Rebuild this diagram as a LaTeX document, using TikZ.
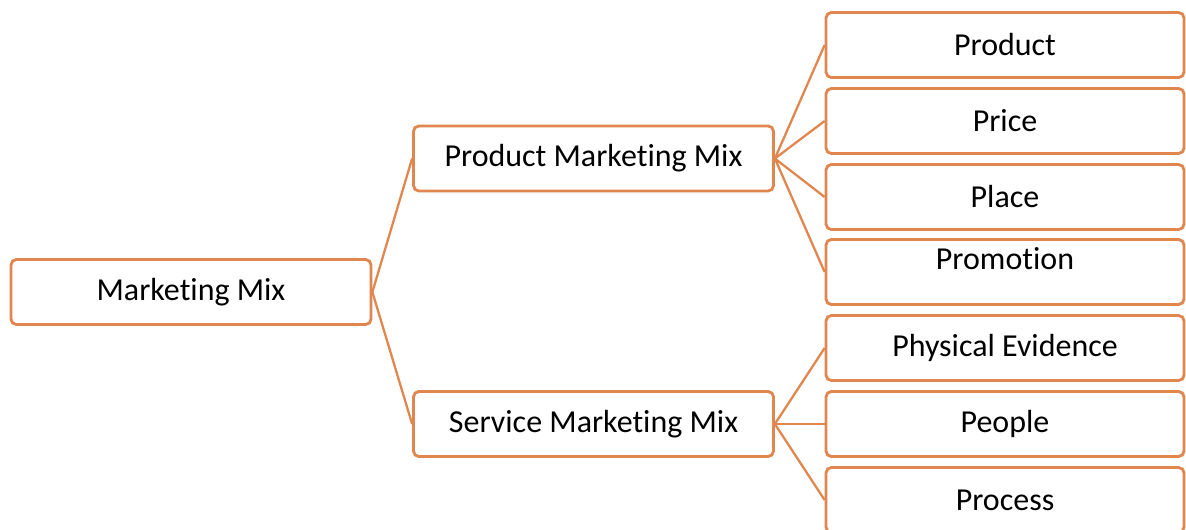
\documentclass[tikz,border=0pt]{standalone}
\usepackage{fontspec}
\setmainfont{Carlito}[Ligatures=NoCommon]
\definecolor{mixorange}{RGB}{224,134,78}
\tikzset{box/.style = {draw=mixorange, line width=1.6pt, rounded corners=3pt, fill=white, minimum width=7.2cm, minimum height=1.3cm, inner sep=2pt, font=\fontsize{18.2}{21}\selectfont}}
\tikzset{leaf/.style = {box, minimum width=7.16cm}}
\tikzset{link/.style = {draw=mixorange, line width=1.3pt}}

\begin{document}
\begin{tikzpicture}[x=0.02cm, y=-0.02cm]
        \useasboundingbox (0,0) rectangle (1186,529);
        % root and the two mixes
        \node[box] (mix) at (191,292) {Marketing Mix};
        \node[box] (pmm) at (593.5,158.5) {Product Marketing Mix};
        \node[box] (smm) at (593.5,424) {Service Marketing Mix};
        % the 4 Ps
        \node[leaf] (product) at (1005,45) {Product};
        \node[leaf] (price) at (1005,121) {Price};
        \node[leaf] (place) at (1005,197) {Place};
        \node[leaf, text depth=0.55cm] (promotion) at (1005,272) {Promotion};
        % the extra service Ps
        \node[leaf] (evidence) at (1005,348) {Physical Evidence};
        \node[leaf] (people) at (1005,424) {People};
        \node[leaf] (process) at (1005,500) {Process};
        \draw[link] (mix.east) -- (pmm.west) (mix.east) -- (smm.west);
        \foreach \p in {product,price,place,promotion}
            \draw[link] (pmm.east) -- (\p.west);
        \foreach \s in {evidence,people,process}
            \draw[link] (smm.east) -- (\s.west);
    \end{tikzpicture}
\end{document}
